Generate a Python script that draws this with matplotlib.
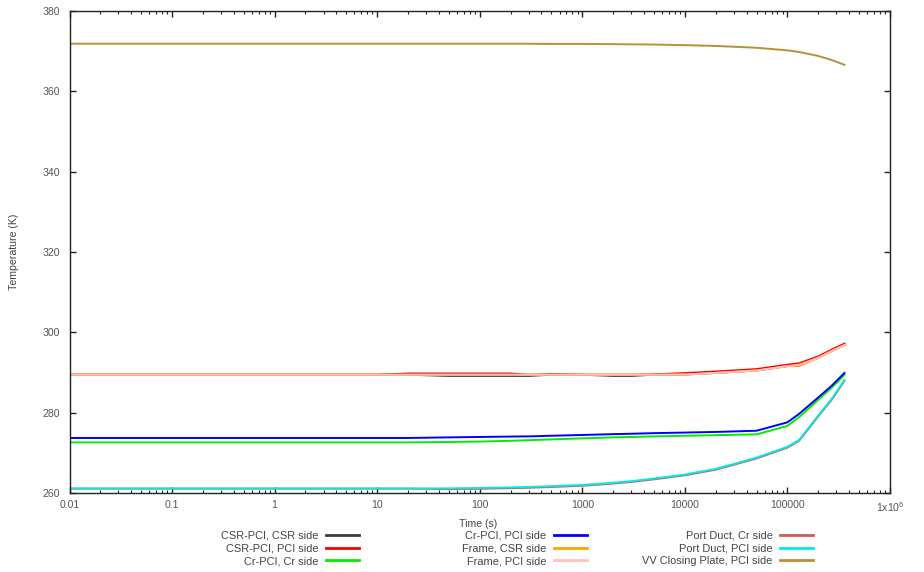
import matplotlib.pyplot as plt
from matplotlib.lines import Line2D
from matplotlib.ticker import LogLocator, FixedLocator, NullFormatter

plt.rcParams['font.family'] = ['Liberation Sans', 'DejaVu Sans']
plt.rcParams['mathtext.default'] = 'regular'

# time points (s) and temperatures (K) of each component
time_s = [0.01, 10, 20, 50, 100, 200, 300, 500, 1e3, 2e3, 3e3, 5e3,
          1e4, 2e4, 5e4, 1e5, 1.3e5, 2e5, 2.7e5, 3.6e5]

csr_pci_csr = [289.45, 289.45, 289.45, 289.15, 289.15, 289.15, 289.15, 289.45, 289.45, 289.15,
               289.15, 289.45, 289.5, 289.9, 290.5, 291.6, 291.95, 293.65, 295.35, 296.85]
csr_pci_pci = [289.45, 289.45, 289.75, 289.75, 289.75, 289.75, 289.45, 289.6, 289.45, 289.45,
               289.45, 289.55, 289.85, 290.25, 290.85, 291.95, 292.3, 294.0, 295.7, 297.2]
cr_pci_cr = [272.6, 272.6, 272.6, 272.7, 272.8, 273.0, 273.15, 273.35, 273.6, 273.85,
             273.95, 274.1, 274.25, 274.4, 274.6, 276.7, 278.9, 283.2, 286.2, 289.4]
cr_pci_pci = [273.7, 273.7, 273.7, 273.85, 273.95, 274.05, 274.1, 274.25, 274.45, 274.65,
              274.75, 274.9, 275.05, 275.2, 275.5, 277.6, 279.7, 283.8, 286.7, 289.9]
frame_csr = [289.45, 289.45, 289.45, 289.45, 289.45, 289.45, 289.45, 289.45, 289.45, 289.45,
             289.45, 289.45, 289.5, 289.9, 290.5, 291.6, 291.6, 293.65, 295.35, 296.85]
frame_pci = [289.45, 289.45, 289.45, 289.45, 289.45, 289.45, 289.45, 289.45, 289.45, 289.45,
             289.45, 289.45, 289.5, 289.9, 290.5, 291.6, 291.95, 293.65, 295.35, 296.85]
port_duct_cr = [261.1, 261.1, 261.1, 260.95, 261.05, 261.2, 261.3, 261.5, 261.8, 262.35,
                262.75, 263.4, 264.4, 265.8, 268.6, 271.3, 273.0, 279.1, 283.2, 287.9]
port_duct_pci = [261.1, 261.1, 261.1, 261.15, 261.25, 261.4, 261.5, 261.7, 262.0, 262.55,
                 262.95, 263.6, 264.6, 266.0, 268.8, 271.5, 273.2, 279.3, 283.4, 288.1]
vv_plate_pci = [371.85, 371.85, 371.85, 371.85, 371.85, 371.85, 371.85, 371.8, 371.8, 371.75,
                371.7, 371.65, 371.5, 371.3, 370.85, 370.2, 369.8, 368.8, 367.8, 366.6]

series = [
    ('CSR-PCI, CSR side', csr_pci_csr, '#3c3c3c'),
    ('CSR-PCI, PCI side', csr_pci_pci, '#ff0000'),
    ('Cr-PCI, Cr side', cr_pci_cr, '#00ee00'),
    ('Cr-PCI, PCI side', cr_pci_pci, '#0000ff'),
    ('Frame, CSR side', frame_csr, '#ffa500'),
    ('Frame, PCI side', frame_pci, '#ffc0c0'),
    ('Port Duct, Cr side', port_duct_cr, '#cd5c5c'),
    ('Port Duct, PCI side', port_duct_pci, '#00eaea'),
    ('VV Closing Plate, PCI side', vv_plate_pci, '#b8903a'),
]

x_ticks = [0.01, 0.1, 1, 10, 100, 1000, 10000, 100000, 1e6]
x_tick_labels = ['0.01', '0.1', '1', '10', '100', '1000', '10000', '100000', '1x10$^{6}$']
y_ticks = [260, 280, 300, 320, 340, 360, 380]

W, H = 924, 572
fig = plt.figure(figsize=(W / 100, H / 100), dpi=100)
ax = fig.add_axes([69.5 / W, 1 - 493 / H, (890 - 69.5) / W, (493 - 11) / H])

for label, temps, color in series:
    ax.plot(time_s, temps, color=color, lw=1.4, label=label)

ax.set_xscale('log')
ax.set_xlim(0.01, 1e6)
ax.set_ylim(260, 380)
ax.xaxis.set_major_locator(FixedLocator(x_ticks))
ax.set_xticklabels(x_tick_labels)
ax.xaxis.set_minor_locator(LogLocator(base=10, subs=range(2, 10), numticks=50))
ax.xaxis.set_minor_formatter(NullFormatter())
ax.set_yticks(y_ticks)

ax.tick_params(which='both', direction='in', top=True, right=True,
               colors='#222222', labelcolor='#555555', labelsize=7.6)
ax.tick_params(which='major', length=4.5, width=1.0)
ax.tick_params(which='minor', length=2.5, width=0.8)
ax.tick_params(axis='y', pad=7)
ax.tick_params(axis='x', pad=5)
for sp in ax.spines.values():
    sp.set_color('#222222')
    sp.set_linewidth(1.0)

ax.set_xlabel('Time (s)', fontsize=7.6, color='#444444')
ax.xaxis.set_label_coords(0.4985, (493 - 519) / 482)
ax.set_ylabel('Temperature (K)', fontsize=7.6, color='#444444')
ax.yaxis.set_label_coords((19 - 69.5) / 820.5, 0.5)

# three legend columns, text to the left of the sample line
handles = [Line2D([], [], color=c, lw=2.0) for _, _, c in series]
labels = [s[0] for s in series]
for col, x_right in enumerate([359, 587, 813]):
    fig.legend(handles[col * 3:col * 3 + 3], labels[col * 3:col * 3 + 3],
               loc='upper right', bbox_to_anchor=(x_right / W, 1 - 531 / H),
               frameon=False, markerfirst=False, fontsize=7.9,
               labelcolor='#444444', borderpad=0, borderaxespad=0,
               handlelength=3.0, handletextpad=0.7, labelspacing=0.24)

fig.savefig('out.png', dpi=100)
